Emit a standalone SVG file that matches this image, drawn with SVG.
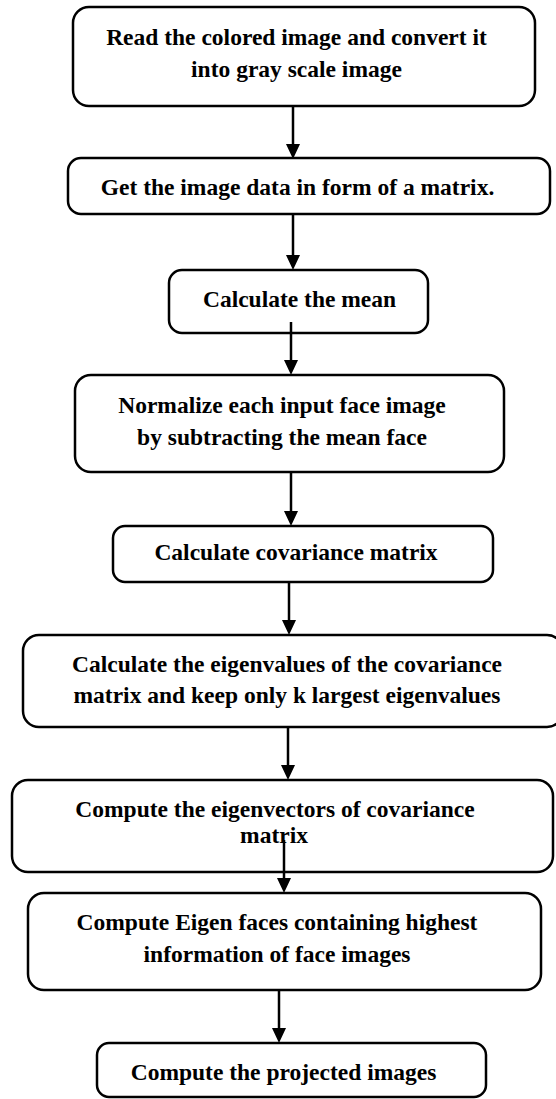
<svg xmlns="http://www.w3.org/2000/svg" width="556" height="1099" viewBox="0 0 556 1099">
<defs>
<style>
.box{fill:#fff;stroke:#000;stroke-width:2.5}
.t{font-family:"Liberation Serif","Times New Roman",serif;font-weight:bold;font-size:23.5px;fill:#000;text-anchor:middle}
.c{stroke:#000;stroke-width:2.5;fill:none;marker-end:url(#ah)}
</style>
<marker id="ah" markerUnits="userSpaceOnUse" markerWidth="15" markerHeight="14" refX="0" refY="7" orient="auto" viewBox="0 0 15 14">
<path d="M0,0 L15,7 L0,14 Z" fill="#000"/>
</marker>
</defs>
<rect width="556" height="1099" fill="#fff"/>
<g id="n1"><rect class="box" x="73" y="7" width="462" height="99" rx="16"/>
<text class="t" x="296.5" y="45">Read the colored image and convert it</text>
<text class="t" x="296.5" y="77">into gray scale image</text></g>
<g id="n2"><rect class="box" x="68" y="158" width="482" height="56" rx="13"/>
<text class="t" x="297.5" y="195">Get the image data in form of a matrix.</text></g>
<g id="n3"><rect class="box" x="169" y="270" width="259" height="63" rx="13"/>
<text class="t" x="299.5" y="307">Calculate the mean</text></g>
<g id="n4"><rect class="box" x="75" y="375" width="429" height="97" rx="16"/>
<text class="t" x="282" y="413">Normalize each input face image</text>
<text class="t" x="282" y="445">by subtracting the mean face</text></g>
<g id="n5"><rect class="box" x="113" y="526" width="380" height="56" rx="12"/>
<text class="t" x="296" y="560">Calculate covariance matrix</text></g>
<g id="n6"><rect class="box" x="23" y="635" width="540" height="92" rx="16"/>
<text class="t" x="287" y="672">Calculate the eigenvalues of the covariance</text>
<text class="t" x="287" y="703">matrix and keep only k largest eigenvalues</text></g>
<g id="n7"><rect class="box" x="12" y="780" width="541" height="92" rx="16"/>
<text class="t" x="275" y="817">Compute the eigenvectors of covariance</text>
<text class="t" x="274" y="843">matrix</text></g>
<g id="n8"><rect class="box" x="28" y="893" width="513" height="97" rx="16"/>
<text class="t" x="277" y="930">Compute Eigen faces containing highest</text>
<text class="t" x="277" y="962">information of face images</text></g>
<g id="n9"><rect class="box" x="97" y="1043" width="389" height="54" rx="12"/>
<text class="t" x="283.5" y="1080">Compute the projected images</text></g>
<g id="connectors">
<path class="c" d="M293,106 V144"/>
<path class="c" d="M293,214 V255"/>
<path class="c" d="M291,322 V360"/>
<path class="c" d="M291,472 V511"/>
<path class="c" d="M289,582 V620"/>
<path class="c" d="M288,727 V765"/>
<path class="c" d="M284,840 V878"/>
<path class="c" d="M279,990 V1028"/>
</g>
</svg>
